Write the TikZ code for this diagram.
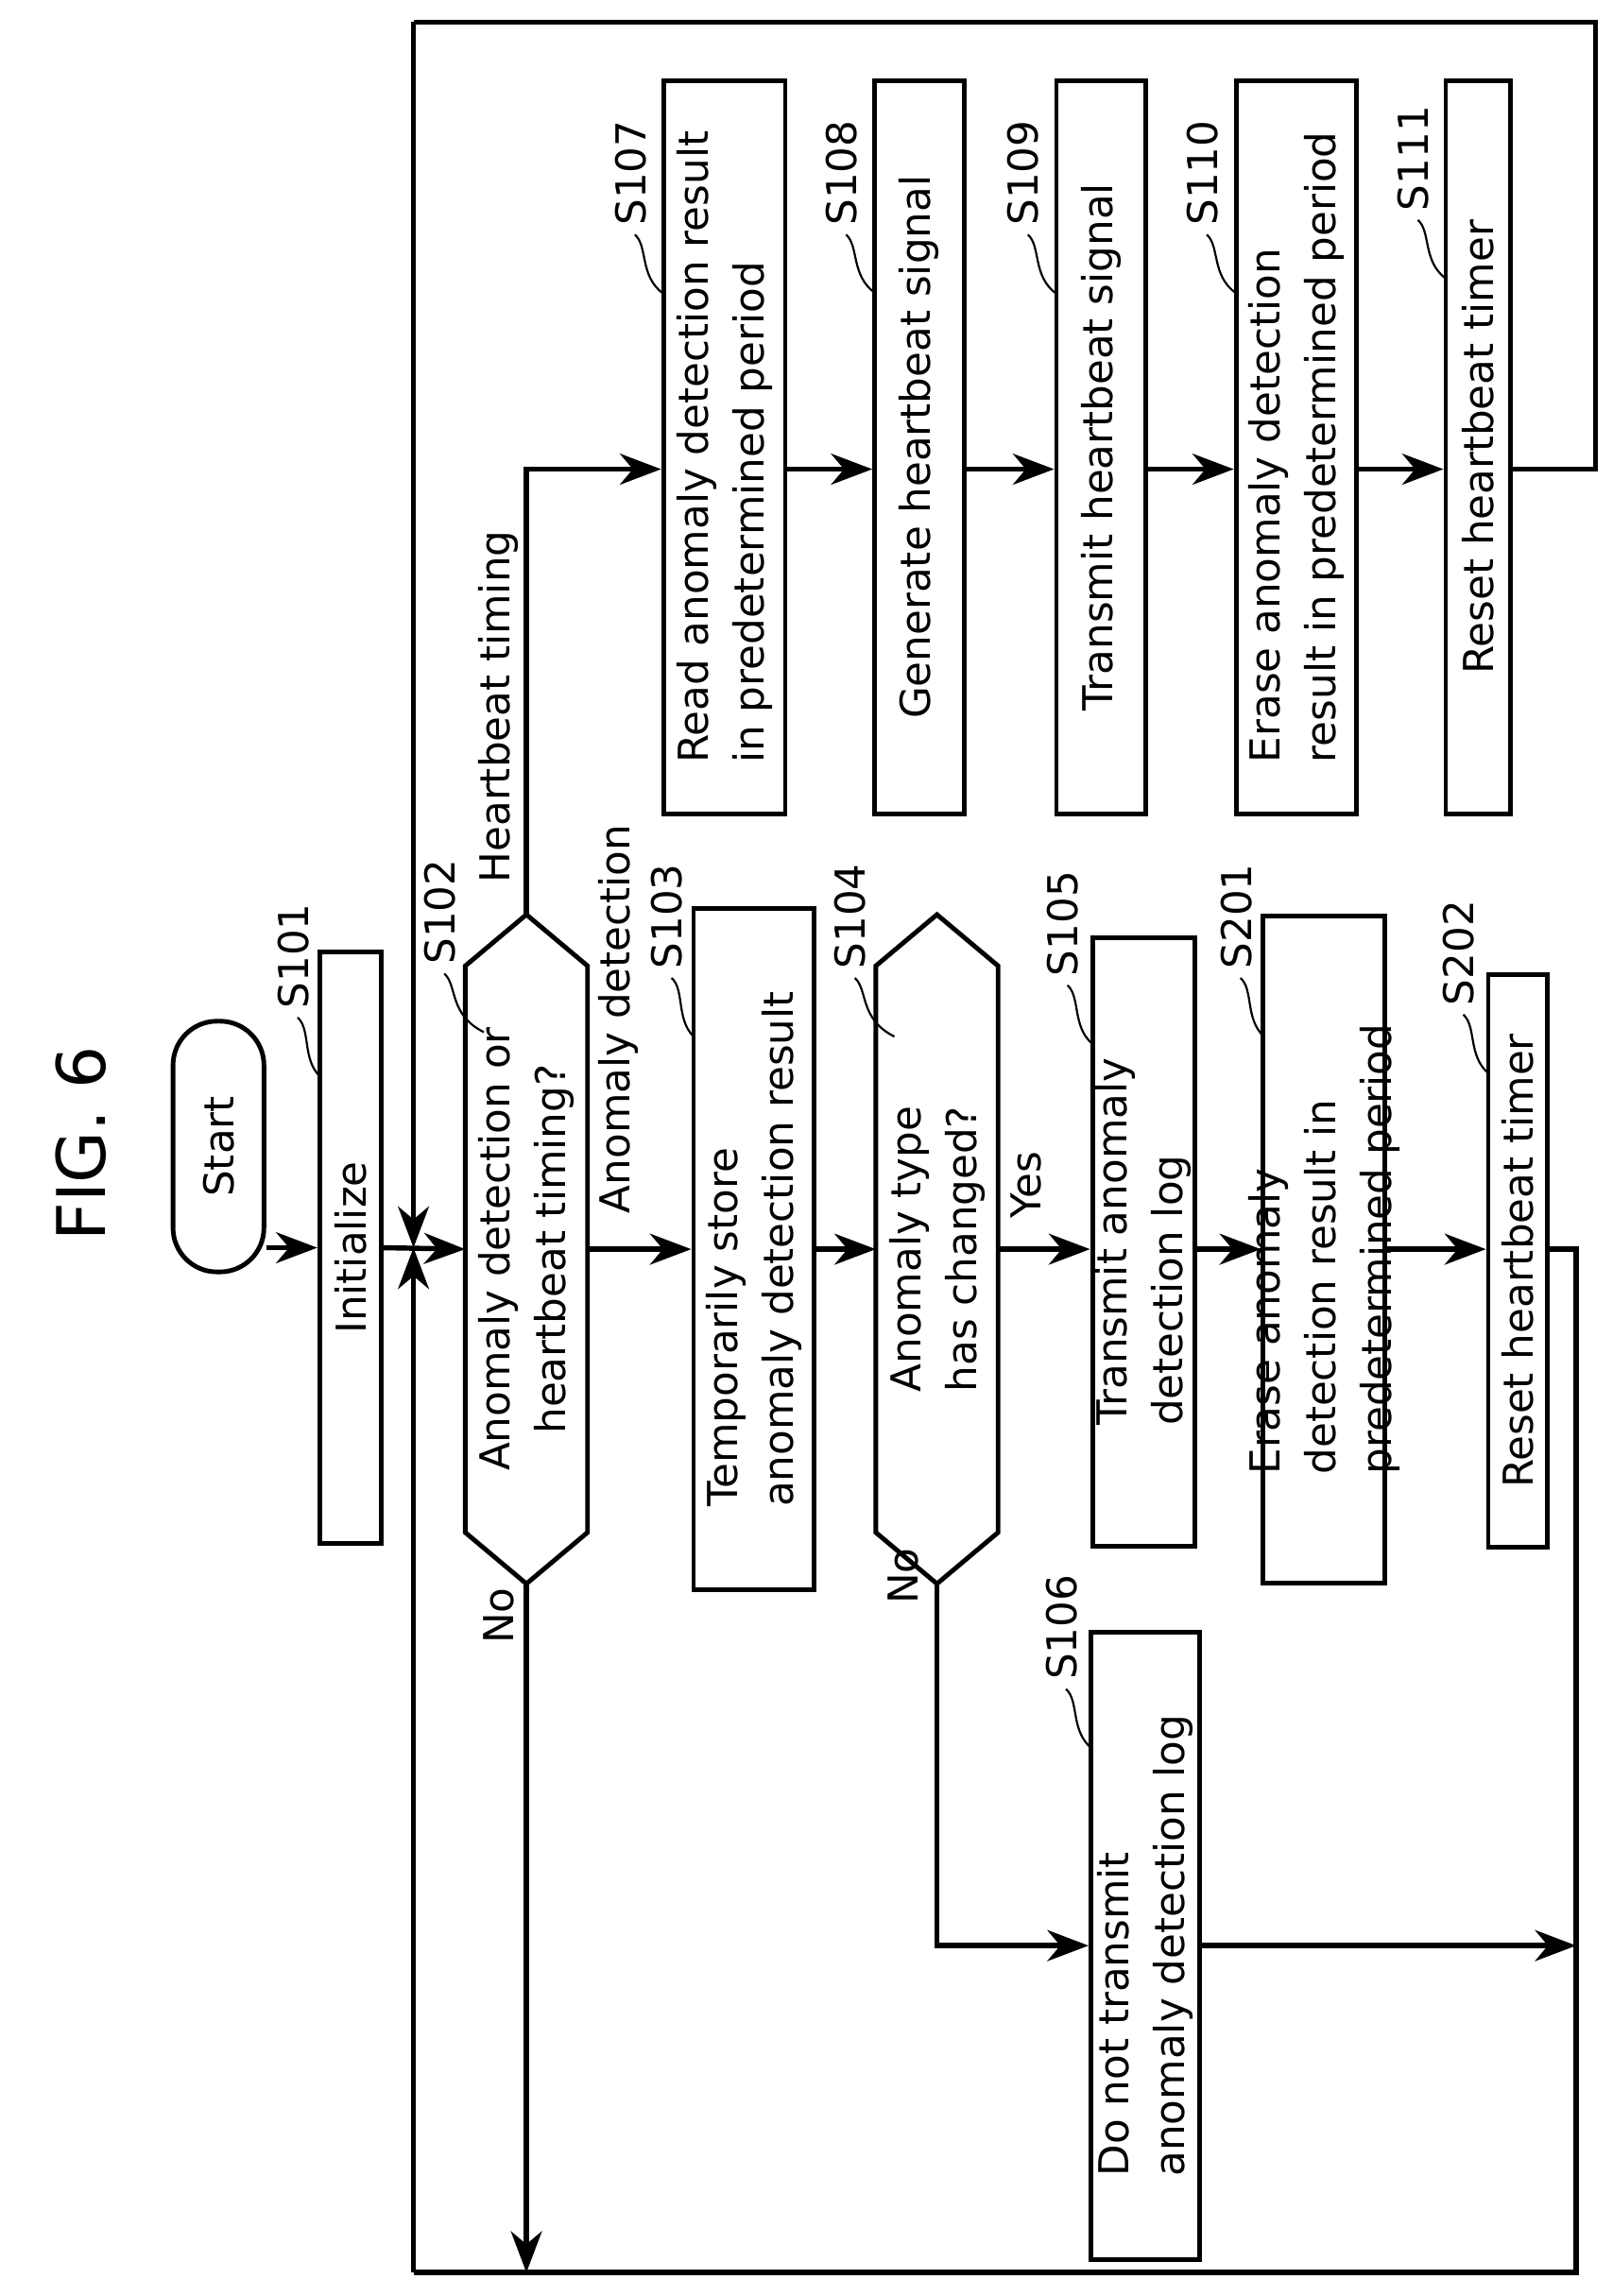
\documentclass[tikz,border=0pt]{standalone}
\usepackage{fontspec}
\setmainfont{DejaVu Sans}
\usetikzlibrary{arrows.meta}
\begin{document}
\begin{tikzpicture}[x=0.1mm,y=-0.1mm,
  box/.style={draw,line width=0.9pt,inner sep=0pt},
  txt/.style={rotate=90,align=left,font=\fontsize{8}{10.8}\selectfont,inner sep=0pt},
  lbl/.style={rotate=90,font=\fontsize{8}{10}\selectfont,inner sep=0pt},
  ln/.style={line width=1pt},
  arr/.style={line width=1pt,-{Stealth[length=8pt,width=6pt,inset=2.5pt]}},
  lead/.style={line width=0.4pt}]
\useasboundingbox (0,0) rectangle (1100,1566);
\newcommand\bx[6]{\node[box,minimum width=#4*0.1mm,minimum height=#5*0.1mm] (#1) at (#2,#3) {};\node[txt] at (#1) {#6};}
\newcommand\hx[6]{\node[inner sep=0pt,minimum width=#4*0.1mm,minimum height=#5*0.1mm] (#1) at (#2,#3) {};
  \draw[line width=0.9pt] (#1.north) -- ([shift={(0,35)}]#1.north east) -- ([shift={(0,-35)}]#1.south east) -- (#1.south) -- ([shift={(0,-35)}]#1.south west) -- ([shift={(0,35)}]#1.north west) -- cycle;
  \node[txt,align=center] at (#1) {#6};}
\newcommand\stp[4]{\node[lbl] (#1) at (#2,#3) {#1};
  \draw[lead] ($(#2,#3)+(3,42)$) .. controls ($(#2,#3)+(12,50)$) and ($(#2,#3)+(6,70)$) .. ($(#4,#3)+(0,82)$);}
\usetikzlibrary{calc}
% title
\node[rotate=90,font=\fontsize{13}{15}\selectfont] (title) at (55,780) {FIG. 6};
% start
\node[draw,line width=0.9pt,rounded corners=3mm,minimum width=6.2mm,minimum height=17.1mm] (start) at (149,782) {};
\node[txt] at (start) {Start};
% lower row
\bx{init}{239}{851}{42}{403}{Initialize}
\hx{d1}{359}{852}{82}{455}{Anomaly detection or\\heartbeat timing?}
\bx{s103}{514}{852}{82}{465}{Temporarily store\\anomaly detection result}
\hx{d2}{639}{852}{82}{455}{Anomaly type\\has changed?}
\bx{s105}{780}{847}{70}{415}{Transmit anomaly\\detection log}
\bx{s201}{903}{852}{83}{455}{Erase anomaly\\detection result in\\predetermined period}
\bx{s202}{1035}{860}{40}{390}{Reset heartbeat timer}
\bx{s106}{781}{1327}{74}{428}{Do not transmit\\anomaly detection log}
% top row
\bx{s107}{494}{305}{83}{500}{Read anomaly detection result\\in predetermined period}
\bx{s108}{627}{305}{61}{500}{Generate heartbeat signal}
\bx{s109}{751}{305}{61}{500}{Transmit heartbeat signal}
\bx{s110}{884}{305}{82}{500}{Erase anomaly detection\\result in predetermined period}
\bx{s111}{1008}{305}{44}{500}{Reset heartbeat timer}
% step labels
\stp{S101}{200}{652}{218}
\stp{S102}{300}{622}{330}
\stp{S103}{455}{625}{473}
\stp{S104}{580}{625}{610}
\stp{S105}{725}{630}{745}
\stp{S201}{843}{625}{862}
\stp{S202}{995}{650}{1015}
\stp{S106}{724}{1110}{744}
\stp{S107}{430}{118}{452}
\stp{S108}{574}{118}{597}
\stp{S109}{698}{118}{720}
\stp{S110}{820}{118}{843}
\stp{S111}{964}{108}{986}
% coordinates
\coordinate (j) at (282,851);
\coordinate (hb) at (0,320);
\coordinate (tl) at (282,15);
\coordinate (tr) at (1088,15);
\coordinate (bl) at (282,1550);
\coordinate (br) at (1075,1550);
\coordinate (rx) at (1075,0);
% connectors
\draw[arr] (start.east |- init.west) -- (init.west);
\draw[arr] (init.east) -- (d1.west);
\draw[arr] (d1.east) -- node[lbl,above=2mm,pos=0.35]{} (s103.west);
\node[lbl] (la) at (422,695) {Anomaly detection};
\draw[arr] (s103.east) -- (d2.west);
\draw[arr] (d2.east) -- (s105.west |- d2.east);
\node[lbl] (ly) at (700,808) {Yes};
\draw[arr] (s105.east |- s201.west) -- (s201.west);
\draw[arr] (s201.east) -- (s202.west |- s201.east);
\draw[arr] (d1.north) -- (d1.north |- hb) -- (s107.west |- hb);
\node[lbl] (lh) at (340,482) {Heartbeat timing};
\draw[arr] (d1.south) -- (d1.south |- bl);
\node[lbl] (ln1) at (340,1102) {No};
\draw[arr] (d2.south) -- (d2.south |- s106.west) -- (s106.west);
\node[lbl] (ln2) at (616,1075) {No};
\draw[arr] (s106.east) -- (rx |- s106.east);
\draw[ln] (s202.east |- s201.east) -- (rx |- s201.east) -- (br) -- (bl);
\draw[arr] (bl) -- (j);
\draw[arr] (s107.east |- hb) -- (s108.west |- hb);
\draw[arr] (s108.east |- hb) -- (s109.west |- hb);
\draw[arr] (s109.east |- hb) -- (s110.west |- hb);
\draw[arr] (s110.east |- hb) -- (s111.west |- hb);
\draw[ln] (s111.east |- hb) -- (tr |- hb) -- (tr) -- (tl);
\draw[arr] (tl) -- (j);
\end{tikzpicture}
\end{document}
